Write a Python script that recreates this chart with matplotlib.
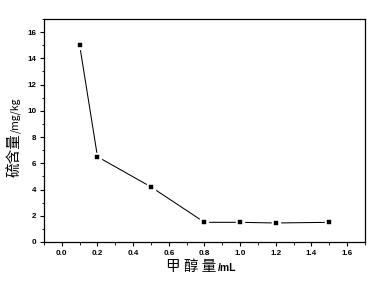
import matplotlib
matplotlib.use("Agg")
import matplotlib.pyplot as plt
from matplotlib.ticker import MultipleLocator

plt.rcParams['font.family'] = ['Liberation Sans', 'Noto Sans CJK SC', 'DejaVu Sans']

methanol_ml = [0.1, 0.2, 0.5, 0.8, 1.0, 1.2, 1.5]
sulfur_mgkg = [15.0, 6.5, 4.2, 1.5, 1.5, 1.45, 1.5]
xticks = [0.0, 0.2, 0.4, 0.6, 0.8, 1.0, 1.2, 1.4, 1.6]
yticks = [0, 2, 4, 6, 8, 10, 12, 14, 16]

fig = plt.figure(figsize=(3.91, 2.81), dpi=100)
ax = fig.add_axes([0.1125, 0.1388, 0.821, 0.7936])

ax.plot(methanol_ml, sulfur_mgkg, color='black', lw=0.75, zorder=2)
ax.plot(methanol_ml, sulfur_mgkg, ls='none', marker='s', ms=6.0, mfc='white', mec='white', zorder=3)
ax.plot(methanol_ml, sulfur_mgkg, ls='none', marker='s', ms=3.3, mfc='black', mec='black', mew=0.3, zorder=4)

ax.set_xlim(-0.1, 1.7)
ax.set_ylim(0, 17)
ax.set_xticks(xticks)
ax.set_xticklabels([f"{v:.1f}" for v in xticks])
ax.set_yticks(yticks)
ax.set_yticklabels([str(v) for v in yticks])
ax.xaxis.set_minor_locator(MultipleLocator(0.1))
ax.yaxis.set_minor_locator(MultipleLocator(1))
ax.tick_params(which='major', direction='out', length=3, width=0.8, labelsize=5.8, pad=2.5)
ax.tick_params(which='minor', direction='out', length=1.8, width=0.6)
for lab in ax.get_xticklabels() + ax.get_yticklabels():
    lab.set_fontweight('bold')
for s in ax.spines.values():
    s.set_linewidth(0.9)

H = 281.0
W = 391.0
cjk = ['Noto Sans CJK SC', 'DejaVu Sans']
# y label
fig.text(15 / W, 1 - 177 / H, '硫含量', rotation=90, rotation_mode='anchor',
         ha='left', va='center', fontsize=10.5, family=cjk)
fig.text(16 / W, 1 - 133 / H, '/mg/kg', rotation=90, rotation_mode='anchor',
         ha='left', va='center', fontsize=7.5, family=cjk)
# x label
fig.text(166 / W, 1 - 267 / H, '甲 醇 量', ha='left', va='center', fontsize=10.5, family=cjk)
fig.text(218 / W, 1 - 268 / H, '/mL', ha='left', va='center', fontsize=7.5, fontweight='bold',
         family=['Liberation Sans', 'DejaVu Sans'])

fig.savefig('out.png', dpi=100)
